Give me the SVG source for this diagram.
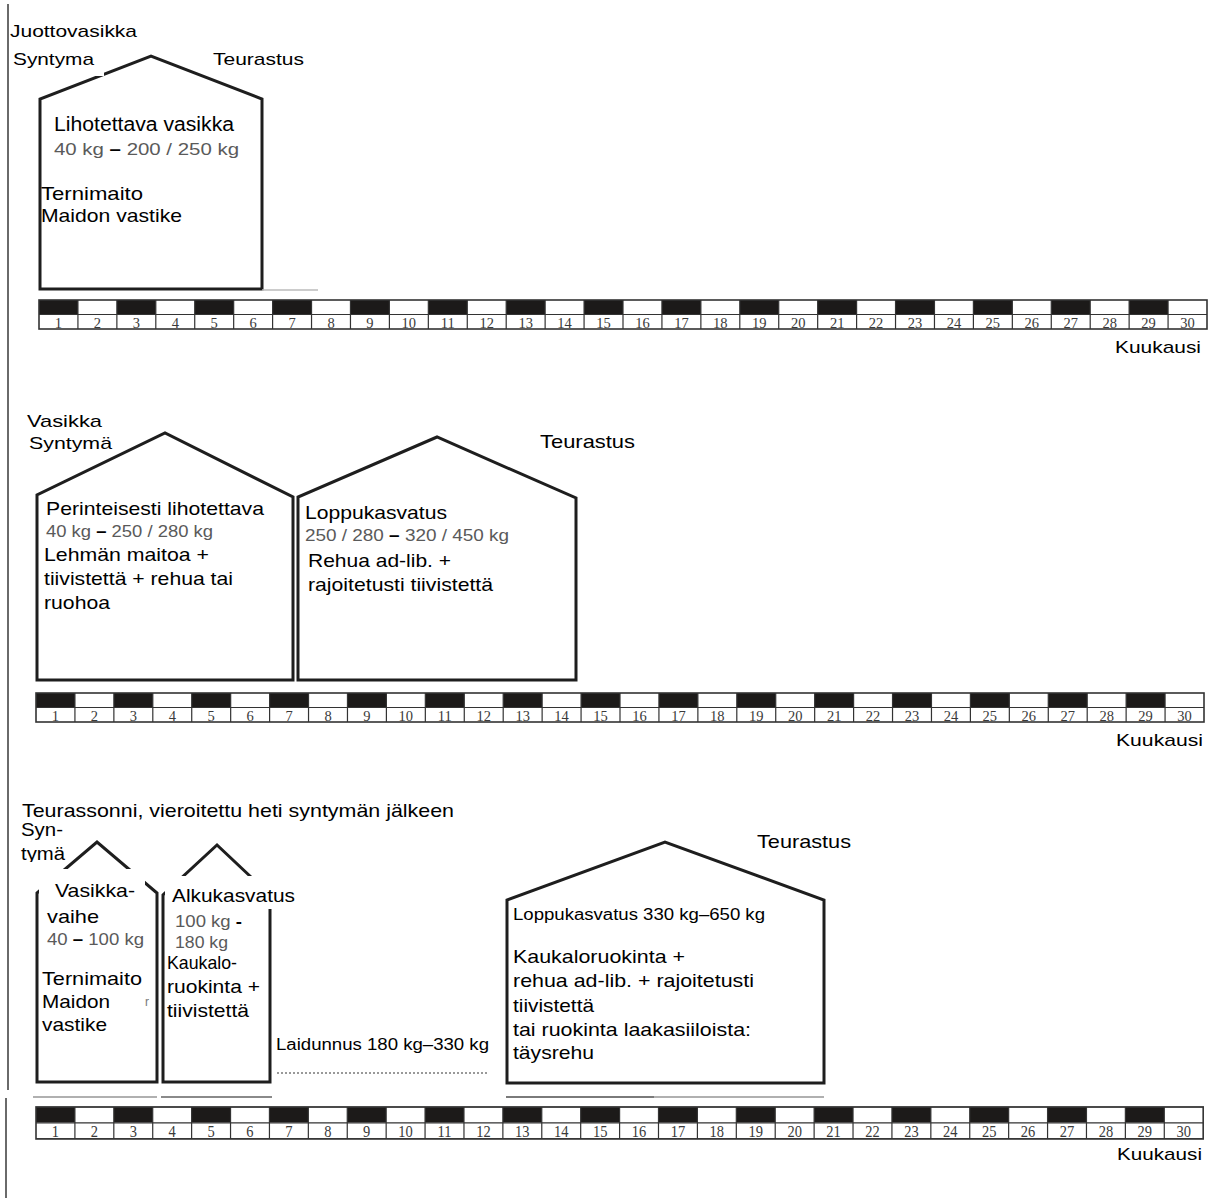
<svg xmlns="http://www.w3.org/2000/svg" width="1213" height="1198" viewBox="0 0 1213 1198">
<style>
text{font-family:"Liberation Sans",Arial,sans-serif;fill:#000;font-size:19px}
.s17{font-size:17px}
.s16{font-size:16px}
.s20{font-size:20px}
.wt{fill:#5a5a5a;font-size:16px}
.dash{fill:#000;font-weight:bold}
.house{fill:#fff;stroke:#1e1e1e;stroke-width:3;stroke-linejoin:miter}
.num{font-family:"Liberation Serif","Times New Roman",serif;font-size:14.5px;fill:#3a3a3a;text-anchor:middle}
.mask{fill:#fff}
.gl{stroke-width:2;fill:none}
</style>
<defs>
<g id="timeline">
<rect width="1168" height="29" fill="#fff"/>
<g fill="#1c1a19">
<rect x="0" width="38.93" height="14"/><rect x="77.87" width="38.93" height="14"/><rect x="155.73" width="38.93" height="14"/><rect x="233.6" width="38.93" height="14"/><rect x="311.47" width="38.93" height="14"/><rect x="389.33" width="38.93" height="14"/><rect x="467.2" width="38.93" height="14"/><rect x="545.07" width="38.93" height="14"/><rect x="622.93" width="38.93" height="14"/><rect x="700.8" width="38.93" height="14"/><rect x="778.67" width="38.93" height="14"/><rect x="856.53" width="38.93" height="14"/><rect x="934.4" width="38.93" height="14"/><rect x="1012.27" width="38.93" height="14"/><rect x="1090.13" width="38.93" height="14"/>
</g>
<path fill="none" stroke="#333" stroke-width="1.2" d="M0 14.5H1168M38.93 0V29M77.87 0V29M116.8 0V29M155.73 0V29M194.67 0V29M233.6 0V29M272.53 0V29M311.47 0V29M350.4 0V29M389.33 0V29M428.27 0V29M467.2 0V29M506.13 0V29M545.07 0V29M584 0V29M622.93 0V29M661.87 0V29M700.8 0V29M739.73 0V29M778.67 0V29M817.6 0V29M856.53 0V29M895.47 0V29M934.4 0V29M973.33 0V29M1012.27 0V29M1051.2 0V29M1090.13 0V29M1129.07 0V29"/>
<rect width="1168" height="29" fill="none" stroke="#333" stroke-width="1.6"/>
<g class="num">
<text x="19.47" y="27.5" class="num">1</text><text x="58.4" y="27.5" class="num">2</text><text x="97.33" y="27.5" class="num">3</text><text x="136.27" y="27.5" class="num">4</text><text x="175.2" y="27.5" class="num">5</text><text x="214.13" y="27.5" class="num">6</text><text x="253.07" y="27.5" class="num">7</text><text x="292" y="27.5" class="num">8</text><text x="330.93" y="27.5" class="num">9</text><text x="369.87" y="27.5" class="num">10</text><text x="408.8" y="27.5" class="num">11</text><text x="447.73" y="27.5" class="num">12</text><text x="486.67" y="27.5" class="num">13</text><text x="525.6" y="27.5" class="num">14</text><text x="564.53" y="27.5" class="num">15</text><text x="603.47" y="27.5" class="num">16</text><text x="642.4" y="27.5" class="num">17</text><text x="681.33" y="27.5" class="num">18</text><text x="720.27" y="27.5" class="num">19</text><text x="759.2" y="27.5" class="num">20</text><text x="798.13" y="27.5" class="num">21</text><text x="837.07" y="27.5" class="num">22</text><text x="876" y="27.5" class="num">23</text><text x="914.93" y="27.5" class="num">24</text><text x="953.87" y="27.5" class="num">25</text><text x="992.8" y="27.5" class="num">26</text><text x="1031.73" y="27.5" class="num">27</text><text x="1070.67" y="27.5" class="num">28</text><text x="1109.6" y="27.5" class="num">29</text><text x="1148.53" y="27.5" class="num">30</text>
</g>
</g>
</defs>
<rect width="1213" height="1198" fill="#fff"/>
<g id="margin-line" stroke="#6a6a6a" stroke-width="2">
<line x1="8" y1="4" x2="8" y2="1090"/>
<line x1="6" y1="1098" x2="6" y2="1198"/>
</g>

<!-- Section 1 -->
<g id="section1">
<text id="title1" class="s17" x="10" y="37" textLength="127" lengthAdjust="spacingAndGlyphs">Juottovasikka</text>
<g id="house-lihotettava">
<path class="house" d="M40 289V99L151 56L262 99V289Z"/>
<line x1="262" y1="290" x2="318" y2="290" stroke="#bbb" stroke-width="1.5"/>
<text x="54" y="131" class="s20" textLength="180" lengthAdjust="spacingAndGlyphs">Lihotettava vasikka</text>
<text x="54" y="155" class="wt" textLength="185" lengthAdjust="spacingAndGlyphs">40 kg <tspan class="dash">–</tspan>  200 / 250 kg</text>
<text x="41" y="200" textLength="102" lengthAdjust="spacingAndGlyphs">Ternimaito</text>
<text x="41" y="222" textLength="141" lengthAdjust="spacingAndGlyphs">Maidon vastike</text>
</g>
<g id="label-syntyma1">
<rect class="mask" x="10" y="48" width="94" height="28"/>
<text class="s17" x="13" y="65" textLength="81" lengthAdjust="spacingAndGlyphs">Syntyma</text>
</g>
<text id="teurastus1" class="s17" x="213" y="65" textLength="91" lengthAdjust="spacingAndGlyphs">Teurastus</text>
<use id="timeline1" href="#timeline" x="39" y="300"/>
<text id="kuukausi1" class="s17" x="1115" y="353" textLength="86" lengthAdjust="spacingAndGlyphs">Kuukausi</text>
</g>

<!-- Section 2 -->
<g id="section2">
<text id="title2" x="27" y="427" class="s17" textLength="75" lengthAdjust="spacingAndGlyphs">Vasikka</text>
<text id="syntyma2" x="29" y="449" class="s17" textLength="83" lengthAdjust="spacingAndGlyphs">Syntymä</text>
<text id="teurastus2" x="540" y="448" textLength="95" lengthAdjust="spacingAndGlyphs">Teurastus</text>
<g id="house-perinteisesti">
<path class="house" d="M37 680V495L165 433L293 497V680Z"/>
<text x="46" y="515" textLength="218" lengthAdjust="spacingAndGlyphs">Perinteisesti lihotettava</text>
<text x="46" y="537" class="wt" textLength="167" lengthAdjust="spacingAndGlyphs">40 kg <tspan class="dash">–</tspan> 250 / 280 kg</text>
<text x="44" y="561" textLength="165" lengthAdjust="spacingAndGlyphs">Lehmän maitoa +</text>
<text x="44" y="585" textLength="189" lengthAdjust="spacingAndGlyphs">tiivistettä + rehua tai</text>
<text x="44" y="609" textLength="66" lengthAdjust="spacingAndGlyphs">ruohoa</text>
</g>
<g id="house-loppukasvatus2">
<path class="house" d="M298 680V497L437 437L576 498V680Z"/>
<text x="305" y="519" textLength="142" lengthAdjust="spacingAndGlyphs">Loppukasvatus</text>
<text x="305" y="541" class="wt" textLength="204" lengthAdjust="spacingAndGlyphs">250 / 280 <tspan class="dash">–</tspan> 320 / 450  kg</text>
<text x="308" y="567" textLength="143" lengthAdjust="spacingAndGlyphs">Rehua ad-lib. +</text>
<text x="308" y="591" textLength="185" lengthAdjust="spacingAndGlyphs">rajoitetusti tiivistettä</text>
</g>
<use id="timeline2" href="#timeline" x="36" y="693"/>
<text id="kuukausi2" class="s17" x="1116" y="746" textLength="87" lengthAdjust="spacingAndGlyphs">Kuukausi</text>
</g>

<!-- Section 3 -->
<g id="section3">
<text id="title3" x="22" y="817" textLength="432" lengthAdjust="spacingAndGlyphs">Teurassonni, vieroitettu heti syntymän jälkeen</text>
<g id="label-syntyma3">
<text x="21" y="836" textLength="42" lengthAdjust="spacingAndGlyphs">Syn-</text>
<text x="21" y="860" textLength="44" lengthAdjust="spacingAndGlyphs">tymä</text>
<rect class="mask" x="18" y="862" width="42" height="7"/>
</g>
<text id="teurastus3" x="757" y="848" textLength="94" lengthAdjust="spacingAndGlyphs">Teurastus</text>
<g id="house-vasikkavaihe">
<path class="house" d="M37 1082V893L97 842L157 893V1082Z"/>
<rect class="mask" x="39" y="869" width="106" height="31"/>
<text x="55" y="897" textLength="80" lengthAdjust="spacingAndGlyphs">Vasikka-</text>
<text x="47" y="923" textLength="52" lengthAdjust="spacingAndGlyphs">vaihe</text>
<text x="47" y="945" class="wt" textLength="97" lengthAdjust="spacingAndGlyphs">40 <tspan class="dash">–</tspan> 100 kg</text>
<text x="42" y="985" textLength="100" lengthAdjust="spacingAndGlyphs">Ternimaito</text>
<text x="42" y="1008" textLength="68" lengthAdjust="spacingAndGlyphs">Maidon</text>
<text x="145" y="1006" style="font-size:12px;fill:#777">r</text>
<text x="42" y="1031" textLength="65" lengthAdjust="spacingAndGlyphs">vastike</text>
</g>
<g id="house-alkukasvatus">
<path class="house" d="M163 1082V895L217 845L270 895V1082Z"/>
<rect class="mask" x="165" y="876" width="112" height="33"/>
<text x="172" y="902" textLength="123" lengthAdjust="spacingAndGlyphs">Alkukasvatus</text>
<text x="175" y="927" class="wt" textLength="67" lengthAdjust="spacingAndGlyphs">100 kg <tspan class="dash">-</tspan></text>
<text x="175" y="948" class="wt" textLength="53" lengthAdjust="spacingAndGlyphs">180 kg</text>
<text x="167" y="969" textLength="70" lengthAdjust="spacingAndGlyphs">Kaukalo-</text>
<text x="167" y="993" textLength="93" lengthAdjust="spacingAndGlyphs">ruokinta +</text>
<text x="167" y="1017" textLength="82" lengthAdjust="spacingAndGlyphs">tiivistettä</text>
</g>
<g id="phase-laidunnus">
<text x="276" y="1050" class="s16" textLength="213" lengthAdjust="spacingAndGlyphs">Laidunnus 180 kg–330 kg</text>
</g>
<g id="house-loppukasvatus3">
<path class="house" d="M507 1083V900L665 842L824 900V1083Z"/>
<text x="513" y="920" class="s16" textLength="252" lengthAdjust="spacingAndGlyphs">Loppukasvatus 330 kg–650 kg</text>
<text x="513" y="963" textLength="172" lengthAdjust="spacingAndGlyphs">Kaukaloruokinta +</text>
<text x="513" y="987" textLength="241" lengthAdjust="spacingAndGlyphs">rehua ad-lib. + rajoitetusti</text>
<text x="513" y="1012" textLength="81" lengthAdjust="spacingAndGlyphs">tiivistettä</text>
<text x="513" y="1036" textLength="238" lengthAdjust="spacingAndGlyphs">tai ruokinta laakasiiloista:</text>
<text x="513" y="1059" textLength="81" lengthAdjust="spacingAndGlyphs">täysrehu</text>
</g>
<g id="connectors">
<line x1="277" y1="1073" x2="489" y2="1073" stroke="#999" stroke-width="2" stroke-dasharray="2 2"/>
<line class="gl" x1="33" y1="1097" x2="157" y2="1097" stroke="#b0b0b0"/>
<line class="gl" x1="161" y1="1097" x2="272" y2="1097" stroke="#8a8a8a"/>
<line class="gl" x1="506" y1="1097" x2="654" y2="1097" stroke="#7a7a7a"/>
<line class="gl" x1="654" y1="1097" x2="824" y2="1097" stroke="#b0b0b0"/>
</g>
<use id="timeline3" href="#timeline" transform="translate(36 1107) scale(0.9993 1.1)"/>
<text id="kuukausi3" class="s17" x="1117" y="1160" textLength="85" lengthAdjust="spacingAndGlyphs">Kuukausi</text>
</g>
</svg>
